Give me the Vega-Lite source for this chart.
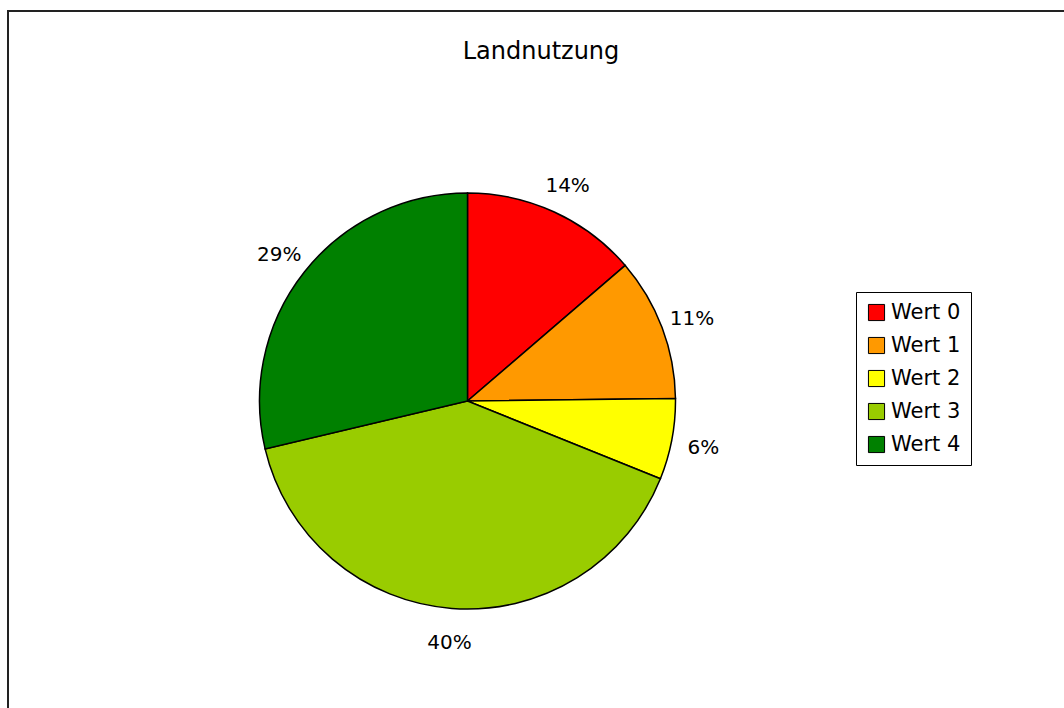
{
  "$schema": "https://vega.github.io/schema/vega-lite/v6.json",
  "autosize": {"type": "none"},
  "padding": {"left": 8, "top": 11, "right": 0, "bottom": 0},
  "width": 1070,
  "height": 720,
  "background": "white",
  "view": {"stroke": "#222222", "strokeWidth": 2, "fill": "white"},
  "config": {
    "view": {"stroke": "#222222", "strokeWidth": 2},
    "font": "DejaVu Sans"
  },
  "title": {
    "text": "Landnutzung",
    "anchor": "middle",
    "frame": "group",
    "orient": "top",
    "offset": 0,
    "baseline": "alphabetic",
    "dy": 72,
    "dx": -2,
    "fontSize": 24,
    "fontWeight": "normal",
    "font": "DejaVu Sans",
    "color": "#000000"
  },
  "data": {
    "values": [
      {"kategorie": "Wert 0", "anteil": 13.7, "label": "14%"},
      {"kategorie": "Wert 1", "anteil": 11.1, "label": "11%"},
      {"kategorie": "Wert 2", "anteil": 6.3, "label": "6%"},
      {"kategorie": "Wert 3", "anteil": 40.2, "label": "40%"},
      {"kategorie": "Wert 4", "anteil": 28.7, "label": "29%"}
    ]
  },
  "encoding": {
    "theta": {"field": "anteil", "type": "quantitative", "stack": true},
    "order": {"field": "kategorie", "type": "ordinal", "sort": "ascending"}
  },
  "layer": [
    {
      "mark": {"type": "arc", "x": 459.5, "y": 390, "outerRadius": 208, "stroke": "#000000", "strokeWidth": 1.5},
      "encoding": {
        "color": {
          "field": "kategorie",
          "type": "nominal",
          "scale": {
            "domain": ["Wert 0", "Wert 1", "Wert 2", "Wert 3", "Wert 4"],
            "range": ["#FF0000", "#FF9900", "#FFFF00", "#99CC00", "#008000"]
          },
          "legend": {
            "title": null,
            "orient": "none",
            "legendX": 848,
            "legendY": 281,
            "strokeColor": "#000000",
            "padding": 10,
            "symbolType": "square",
            "symbolSize": 260,
            "symbolStrokeColor": "#000000",
            "symbolStrokeWidth": 1,
            "symbolOpacity": 1,
            "labelFontSize": 21,
            "labelFont": "DejaVu Sans",
            "labelColor": "#000000",
            "labelOffset": 4,
            "rowPadding": 11,
            "fillColor": "white"
          }
        }
      }
    },
    {
      "mark": {"type": "text", "x": 459.5, "y": 390, "radius": 240, "dy": 3, "fontSize": 20, "font": "DejaVu Sans", "color": "#000000", "align": "center", "baseline": "middle"},
      "encoding": {
        "text": {"field": "label", "type": "nominal"}
      }
    }
  ]
}
